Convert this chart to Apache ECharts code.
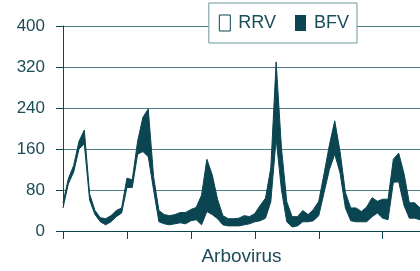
<!DOCTYPE html>
<html>
<head>
<meta charset="utf-8">
<script src="https://cdn.jsdelivr.net/npm/echarts@6/dist/echarts.min.js"></script>
<style>
  html, body { margin: 0; padding: 0; background: #fff; }
  #chart { width: 420px; height: 271px; }
</style>
</head>
<body>
<div id="chart"></div>
<script>
// monthly points, a tick every 12
const months = Array.from({ length: 68 }, (_, i) => String(i + 1));

// RRV (white area, bottom of stack)
const rrv = [
  45, 92, 115, 160, 170, 60, 32, 18, 12, 18, 28, 35,
  85, 85, 150, 155, 145, 80, 18, 14, 12, 14, 16, 14,
  20, 22, 12, 38, 32, 24, 12, 10, 10, 10, 12, 14,
  18, 20, 25, 57, 180, 80, 18, 8, 10, 18, 18, 20,
  30, 75, 120, 150, 113, 45, 20, 18, 18, 18, 28, 35,
  25, 22, 95, 96, 50, 25, 25, 22
];

// stack total (top of the dark band)
const total = [
  55, 102, 128, 175, 197, 72, 40, 26, 24, 30, 40, 45,
  103, 100, 175, 222, 238, 106, 40, 32, 30, 32, 36, 36,
  42, 46, 70, 140, 110, 62, 30, 24, 24, 25, 30, 28,
  34, 50, 64, 123, 330, 162, 57, 28, 28, 40, 32, 42,
  58, 112, 168, 215, 155, 75, 45, 45, 38, 47, 65, 58,
  62, 62, 140, 152, 112, 55, 55, 45
];

// BFV = band thickness
const bfv = total.map((t, i) => t - rrv[i]);

const dark = '#0b4551';
const textColor = '#1b4d58';
const gridColor = '#4f7d85';

const chart = echarts.init(document.getElementById('chart'));
chart.setOption({
  animation: false,
  textStyle: { fontFamily: 'Liberation Sans, Arial, sans-serif' },
  legend: {
    right: 63, top: 3,
    padding: [11, 8, 11, 10],
    backgroundColor: '#fff',
    borderColor: '#6f979d',
    borderWidth: 1,
    borderRadius: 0,
    itemWidth: 11, itemHeight: 16, itemGap: 19,
    icon: 'rect',
    textStyle: { color: textColor, fontSize: 18, padding: [0, 0, 0, 3] },
    data: [
      { name: 'RRV', itemStyle: { color: '#fff', borderColor: dark, borderWidth: 1 } },
      { name: 'BFV', itemStyle: { color: dark, borderWidth: 0 } }
    ]
  },
  grid: { left: 63, right: 0, top: 26, bottom: 40, outerBoundsMode: 'none' },
  xAxis: {
    type: 'category',
    data: months,
    boundaryGap: false,
    name: 'Arbovirus',
    nameLocation: 'middle',
    nameGap: 16,
    nameTextStyle: { color: textColor, fontSize: 19 },
    axisLine: { lineStyle: { color: dark, width: 1 } },
    axisTick: { interval: 11, length: 8, lineStyle: { color: dark } },
    axisLabel: { show: false },
    splitLine: { show: false }
  },
  yAxis: {
    type: 'value',
    min: 0, max: 400, interval: 80,
    axisLine: { show: true, lineStyle: { color: dark, width: 1 } },
    axisTick: { show: true, length: 7, lineStyle: { color: dark } },
    axisLabel: { color: textColor, fontSize: 17, margin: 18 },
    splitLine: { lineStyle: { color: gridColor, width: 1 } }
  },
  series: [
    {
      name: 'RRV', type: 'line', stack: 'a', data: rrv,
      symbol: 'none',
      lineStyle: { color: dark, width: 1 },
      itemStyle: { color: '#fff', borderColor: dark },
      areaStyle: { color: '#fff', opacity: 1 }
    },
    {
      name: 'BFV', type: 'line', stack: 'a', data: bfv,
      symbol: 'none',
      lineStyle: { color: dark, width: 1 },
      itemStyle: { color: dark },
      areaStyle: { color: dark, opacity: 1 }
    }
  ]
});
</script>
</body>
</html>
